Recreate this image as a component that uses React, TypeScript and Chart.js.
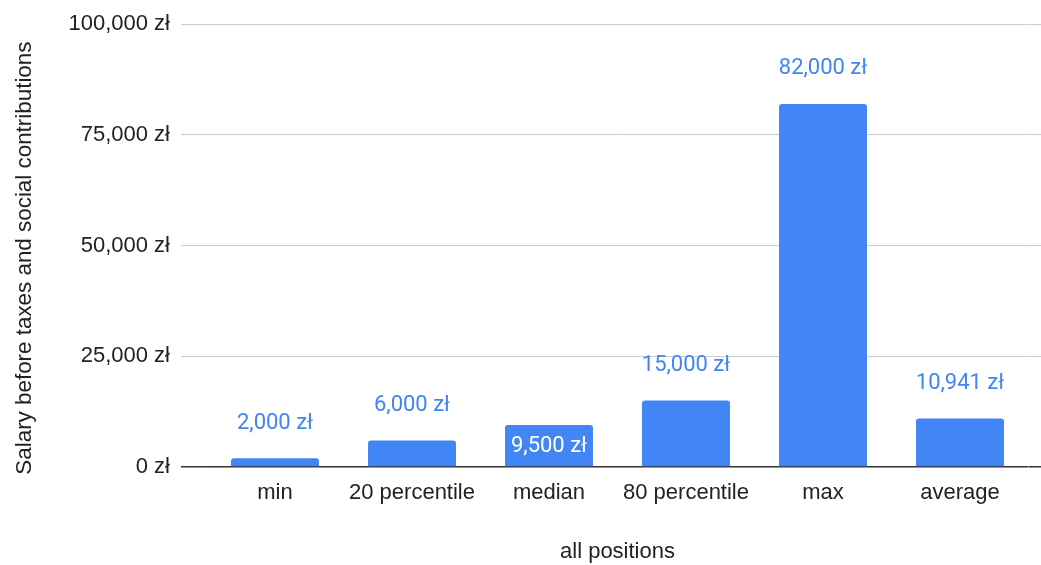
import React, { useEffect, useRef } from "react";
import { Chart, registerables } from "chart.js";

Chart.register(...registerables);

// Salary statistics across all positions
const categories = ["min", "20 percentile", "median", "80 percentile", "max", "average"];
const salaries = [2000, 6000, 9500, 15000, 82000, 10941];
const yTicks = [0, 25000, 50000, 75000, 100000];
// categories whose value label sits inside the bar
const insideLabelCategories = ["median"];
const yAxisTitle = "Salary before taxes and social contributions";
const xAxisTitle = "all positions";

const BAR_COLOR = "#4285F4";
const TEXT_COLOR = "#222222";
const AXIS_FONT = "'Liberation Sans', Arial, sans-serif";
const LABEL_FONT = "Roboto, 'Liberation Sans', sans-serif";
const FONT_SIZE = 22;

const formatZl = (v: number) => v.toLocaleString("en-US") + " zł";

const gridColor = (ctx: any) => (ctx.tick && ctx.tick.value === 0 ? "#333333" : "#cccccc");
const gridWidth = (ctx: any) => (ctx.tick && ctx.tick.value === 0 ? 1.5 : 1);

// value labels above each bar (or inside, for selected categories)
const valueLabels = {
  id: "valueLabels",
  afterDatasetsDraw(chart: any) {
    const { ctx } = chart;
    const meta = chart.getDatasetMeta(0);
    const values = chart.data.datasets[0].data as number[];
    ctx.save();
    ctx.font = `${FONT_SIZE}px ${LABEL_FONT}`;
    ctx.textAlign = "center";
    ctx.textBaseline = "middle";
    meta.data.forEach((bar: any, i: number) => {
      const inside = insideLabelCategories.includes(chart.data.labels[i]);
      ctx.fillStyle = inside ? "#ffffff" : BAR_COLOR;
      const y = inside ? bar.y + 22 : bar.y - 35;
      ctx.fillText(formatZl(values[i]), bar.x, y);
    });
    ctx.restore();
  },
};

// rotated y-axis title, sitting slightly below the plot's vertical centre
const yTitle = {
  id: "yTitle",
  afterDraw(chart: any) {
    const { ctx, chartArea } = chart;
    ctx.save();
    ctx.font = `22.4px ${AXIS_FONT}`;
    ctx.fillStyle = TEXT_COLOR;
    ctx.textAlign = "center";
    ctx.textBaseline = "middle";
    ctx.translate(24.5, (chartArea.top + chartArea.bottom) / 2 + 12.5);
    ctx.rotate(-Math.PI / 2);
    ctx.fillText(yAxisTitle, 0, 0);
    ctx.restore();
  },
};

export default function App() {
  const canvasRef = useRef<HTMLCanvasElement | null>(null);

  useEffect(() => {
    document.body.style.margin = "0";
    const canvas = canvasRef.current;
    if (!canvas) return;
    const chart = new Chart(canvas, {
      type: "bar",
      data: {
        labels: categories,
        datasets: [
          {
            data: salaries,
            backgroundColor: BAR_COLOR,
            borderRadius: 3,
            borderSkipped: "bottom",
            categoryPercentage: 1,
            barPercentage: 0.642,
          },
        ],
      },
      options: {
        responsive: false,
        animation: false,
        layout: { padding: { top: 23.5, left: 0, right: 0, bottom: 0 } },
        plugins: {
          legend: { display: false },
          tooltip: { enabled: false },
        },
        scales: {
          x: {
            grid: { display: false, drawTicks: false },
            border: { display: false },
            ticks: {
              color: TEXT_COLOR,
              font: { family: AXIS_FONT, size: FONT_SIZE },
              padding: 13,
              maxRotation: 0,
            },
            title: {
              display: true,
              text: xAxisTitle,
              color: TEXT_COLOR,
              font: { family: AXIS_FONT, size: FONT_SIZE },
              padding: { top: 0, bottom: 0 },
            },
            afterFit(scale: any) {
              scale.height = 98;
            },
          },
          y: {
            position: "left",
            min: 0,
            max: 100000,
            afterBuildTicks(scale: any) {
              scale.ticks = yTicks.map((v) => ({ value: v }));
            },
            grid: { color: gridColor, lineWidth: gridWidth, tickLength: 25.5, drawTicks: true },
            border: { display: false },
            ticks: {
              color: TEXT_COLOR,
              font: { family: AXIS_FONT, size: FONT_SIZE },
              padding: 11,
              callback: (v: any) => formatZl(Number(v)),
            },
            afterFit(scale: any) {
              scale.width = 206.5;
            },
          },
          yRight: {
            position: "right",
            min: 0,
            max: 100000,
            afterBuildTicks(scale: any) {
              scale.ticks = yTicks.map((v) => ({ value: v }));
            },
            grid: {
              color: gridColor,
              lineWidth: gridWidth,
              tickLength: 12.5,
              drawTicks: true,
              drawOnChartArea: false,
            },
            border: { display: false },
            ticks: { display: false },
            afterFit(scale: any) {
              scale.width = 12.5;
            },
          },
        },
      },
      plugins: [valueLabels, yTitle],
    });
    return () => chart.destroy();
  }, []);

  return (
    <div style={{ position: "absolute", left: 0, top: 0, width: 1041, height: 565, background: "#fff" }}>
      <canvas ref={canvasRef} width={1041} height={565} style={{ display: "block" }} />
    </div>
  );
}
